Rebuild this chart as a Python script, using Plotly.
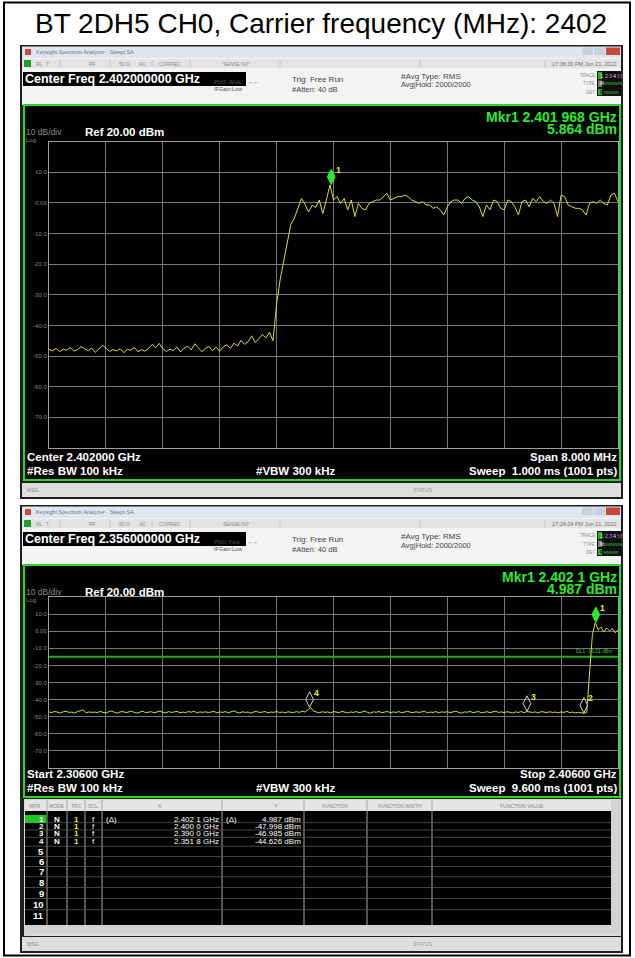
import numpy as np
import plotly.graph_objects as go

W, H = 635, 958
FONT = "Liberation Sans, Arial, sans-serif"

title_text = "BT 2DH5 CH0, Carrier frequency (MHz): 2402"

# sweep 1: centre 2402 MHz, span 8 MHz  (MHz, dBm)
top_start, top_stop = 2398.0, 2406.0
top_level = [
    -47.9, -48.3, -47.5, -48.6, -47.8, -48.1, -47.2, -48.4, -47.9, -46.9, -47.6,
    -48.2, -47.4, -48.8, -47.7, -46.5, -47.3, -48.5, -47.9, -48.3, -47.6,
    -48.9, -47.8, -48.1, -47.2, -48.6, -47.9, -48.4, -47.5, -46.2, -47.3,
    -45.9, -47.6, -48.5, -47.8, -48.2, -47.1, -48.7, -47.4, -46.8, -48.0,
    -46.0, -47.3, -48.6, -47.5, -46.9, -48.2, -47.1, -48.4, -47.0, -46.3,
    -47.5, -45.8, -46.7, -44.9, -46.2, -45.3, -43.4, -45.6, -44.2, -43.0,
    -44.1, -42.2, -45.0, -33.0, -25.0, -19.0, -12.0, -7.0, -5.0, -1.5,
    1.4, -0.5, -3.0, -0.8, -1.5, 0.9, -3.5, 0.9, 5.86, 0.9,
    2.0, -0.2, 1.4, -2.3, 0.9, -4.5, -0.2, -1.8, -2.3, -0.2,
    0.4, 0.9, 0.9, 2.0, 3.1, 0.9, 1.4, 2.0, 2.0, 2.5,
    2.0, 0.9, 0.4, -0.2, 0.4, -0.7, -0.7, -1.8, -1.3, -2.3,
    -4.0, -1.3, 0.4, 0.9, 0.9, -0.2, 1.4, 2.0, 0.9, 0.4,
    -1.3, -4.5, -0.7, -2.3, 0.9, 0.4, -1.8, -2.3, 0.9, 0.4,
    -1.3, -4.0, 0.4, 0.9, -1.3, 1.4, 0.4, 2.0, 0.4, -0.2,
    0.9, -0.2, -4.5, 2.5, 2.0, -0.7, -1.3, -1.8, -1.8, -2.3,
    -4.0, -0.2, 0.4, -0.2, 0.9, -0.2, -0.7, 2.5, 3.1, 0.4,
]
top_mkr_freq = [2401.968]
top_mkr_level = [5.864]

# sweep 2: 2306 - 2406 MHz
bot_start, bot_stop = 2306.0, 2406.0
bot_level = [
    -47.2, -47.6, -46.9, -47.4, -47.8, -47.1, -46.8, -47.5, -47.3, -47.9,
    -47.0, -46.6, -45.9, -47.7, -47.2, -47.5, -47.3, -47.6, -46.9, -47.5,
    -47.8, -47.1, -46.7, -47.4, -47.9, -47.2, -47.0, -47.6, -47.3, -46.8,
    -47.5, -47.9, -47.2, -46.9, -47.6, -47.4, -47.1, -47.8, -47.3, -46.7,
    -47.4, -47.8, -47.0, -47.5, -47.2, -46.9, -47.7, -47.3, -47.6, -47.0,
    -47.4, -46.8, -47.9, -47.2, -47.5, -47.1, -47.6, -47.3, -46.9, -47.8,
    -47.2, -47.5, -47.0, -47.7, -47.3, -46.6, -47.4, -47.8, -47.1, -47.5,
    -47.3, -47.9, -47.2, -46.9, -47.6, -47.4, -47.0, -47.7, -47.3, -47.5,
    -46.9, -47.6, -47.2, -47.8, -47.1, -47.4, -47.6, -47.0, -47.5, -46.8,
    -47.3, -45.9, -44.6, -46.8, -47.4, -47.7, -47.1, -47.5, -47.2, -47.8,
    -47.0, -47.4, -47.6, -46.9, -47.3, -47.8, -47.2, -47.5, -47.0, -47.6,
    -47.3, -46.7, -47.5, -47.9, -47.2, -47.4, -47.0, -47.6, -47.3, -46.9,
    -47.7, -47.2, -47.5, -47.0, -47.8, -47.3, -46.8, -47.4, -47.6, -47.1,
    -47.5, -47.2, -46.9, -47.7, -47.3, -47.5, -47.0, -47.8, -47.2, -47.4,
    -47.1, -47.6, -47.3, -46.8, -47.5, -47.9, -47.2, -47.4, -46.9, -47.6,
    -47.3, -47.0, -47.7, -47.4, -47.1, -47.6, -47.3, -46.8, -47.5, -47.2,
    -47.6, -47.1, -47.4, -47.8, -47.2, -47.5, -47.0, -47.6, -47.0, -47.3,
    -47.5, -47.2, -47.8, -47.0, -47.4, -47.6, -47.1, -47.5, -47.3, -47.7,
    -47.2, -47.5, -46.9, -47.6, -47.3, -47.8, -47.4, -47.6, -48.0, -47.5,
    -24.0, -2.0, 4.99, 0.8, 2.3, -0.5, 1.9, 0.2, 1.6, -0.9,
    0.6,
]
display_line = -15.01

# marker table of sweep 2
mkr_mode = ["N", "N", "N", "N"]
mkr_trc = ["1", "1", "1", "1"]
mkr_scl = ["f", "f", "f", "f"]
mkr_delta = ["(\u0394)", "", "", ""]
mkr_freq = [2402.1, 2400.0, 2390.0, 2351.8]
mkr_level = [4.987, -47.998, -46.985, -44.626]
mkr_rows = 11

ref_level = 20.0
db_div = 10.0
y_ticks = [10, 0, -10, -20, -30, -40, -50, -60, -70]
y_tick_text = ["10.0", "0.00", "-10.0", "-20.0", "-30.0", "-40.0", "-50.0", "-60.0", "-70.0"]

windows = [
    dict(T=45, B=499, G=105, GB=480,
         cf="Center Freq 2.402000000 GHz", time="17:38:30 PM Jun 21, 2022", pno="PNO: Wide",
         mkr="Mkr1 2.401 968 GHz", mkr_val="5.864 dBm",
         left="Center 2.402000 GHz", right="Span 8.000 MHz", sweep="Sweep  1.000 ms (1001 pts)"),
    dict(T=505, B=953, G=565, GB=797,
         cf="Center Freq 2.356000000 GHz", time="17:24:24 PM Jun 21, 2022", pno="PNO: Fast",
         mkr="Mkr1 2.402 1 GHz", mkr_val="4.987 dBm",
         left="Start 2.30600 GHz", right="Stop 2.40600 GHz", sweep="Sweep  9.600 ms (1001 pts)"),
]

shapes, annos = [], []


def py(y):
    return 1 - y / H


def box(x0, y0, x1, y1, fill="rgba(0,0,0,0)", line=None, lw=0):
    shapes.append(dict(type="rect", xref="paper", yref="paper", x0=x0 / W, x1=x1 / W,
                       y0=py(y1), y1=py(y0), fillcolor=fill, layer="below",
                       line=dict(color=line or "rgba(0,0,0,0)", width=lw)))


def seg(x0, y0, x1, y1, color, lw=1):
    shapes.append(dict(type="line", xref="paper", yref="paper", x0=x0 / W, x1=x1 / W,
                       y0=py(y0), y1=py(y1), layer="below", line=dict(color=color, width=lw)))


def txt(x, y, s, size=6, color="#8a8a8a", anchor="left", bold=False):
    annos.append(dict(xref="paper", yref="paper", x=x / W, y=py(y),
                      text="<b>%s</b>" % s if bold else s, showarrow=False,
                      xanchor=anchor, yanchor="middle", borderpad=0,
                      font=dict(size=size, color=color, family=FONT)))


# outer frame + title
box(4, 2.5, 630, 955.5, line="black", lw=2)
txt(321, 23, title_text, 28, "black", anchor="center")

for w in windows:
    T, B, G, GB = w["T"], w["B"], w["G"], w["GB"]
    box(20, T, 623, B, fill="#1e1e1e")
    box(22, T + 1.5, 621, T + 13, fill="#dfe6ef")
    box(25, T + 4, 31, T + 10, fill="#cf4a3c")
    txt(35, T + 7, "Keysight Spectrum Analyzer - Swept SA", 5.5, "#6d7682")
    box(582, T + 2.5, 593, T + 10, fill="#c9d1db")
    box(594, T + 2.5, 605, T + 10, fill="#c9d1db")
    box(606, T + 2.5, 620, T + 10, fill="#c8463a")
    box(22, T + 13, 621, G, fill="#f3f3f3")
    box(22, T + 14, 621, T + 23, fill="#e3e3e3")
    box(24, T + 15, 31, T + 22, fill="#1f9e2a")
    for x, s in [(35, "RL"), (45, "T"), (88, "RF"), (118, "50 \u03a9"), (138, "AC"), (158, "CORREC"),
                 (222, "SENSE:INT")]:
        txt(x, T + 18.5, s, 5, "#8c8c8c")
    for x in [60, 110, 152, 190, 280, 420, 545]:
        seg(x, T + 15, x, T + 22, "#c4c4c4")
    txt(618, T + 19, w["time"], 5.5, "#707070", anchor="right")

    box(23, T + 27, 246, T + 41, fill="black")
    txt(24, T + 34, w["cf"], 12.5, "white", bold=True)
    txt(213, T + 37, w["pno"], 5.5, "#555555")
    txt(213, T + 44, "IFGain:Low", 5.5, "#555555")
    txt(246, T + 37, "\u2192\u2190", 6, "#555555")
    txt(291, T + 34, "Trig: Free Run", 8, "#444444")
    txt(291, T + 44, "#Atten: 40 dB", 7.5, "#444444")
    txt(400, T + 31, "#Avg Type: RMS", 8, "#444444")
    txt(400, T + 40, "Avg|Hold: 2000/2000", 7.5, "#444444")
    # trace indicator block
    txt(596, T + 30, "TRACE", 4.5, "#8c8c8c", anchor="right")
    txt(596, T + 39, "TYPE", 4.5, "#8c8c8c", anchor="right")
    txt(596, T + 47, "DET", 4.5, "#8c8c8c", anchor="right")
    box(597, T + 26, 621, T + 51, fill="#101010")
    box(598, T + 27, 602, T + 34, fill="#25b325")
    for x, s, c in [(599, "1", "#ffff40"), (603.5, "2", "#30e0e0"), (607.5, "3", "#ff50ff"),
                    (611.5, "4", "#e0e0e0"), (615.5, "5", "#5070ff"), (619, "6", "#ff5050")]:
        txt(x, T + 30.5, s, 5.5, c)
    box(598, T + 35.5, 602, T + 42, fill="#7a7a7a")
    txt(598.5, T + 39, "M", 4.5, "white")
    txt(603, T + 39, "WWWWW", 4, "#2ecc2e")
    box(598, T + 44, 602, T + 50, fill="#25b325")
    txt(598.5, T + 47, "P", 4.5, "black")
    txt(603, T + 47, "NNNNN", 4, "#2ecc2e")

    # instrument display
    box(24, G, 620, GB, fill="black", line="#28d828", lw=2)
    txt(618, G + 12, w["mkr"], 14, "#2ee82e", anchor="right", bold=True)
    txt(618, G + 24, w["mkr_val"], 14, "#2ee82e", anchor="right", bold=True)
    txt(25, G + 27, "10 dB/div", 8.5, "#8a8a8a")
    txt(84, G + 27, "Ref 20.00 dBm", 11.5, "white", bold=True)
    txt(25, G + 35, "Log", 6, "#8a8a8a")
    txt(26, GB - 23, w["left"], 11.5, "white", bold=True)
    txt(26, GB - 9, "#Res BW 100 kHz", 11.5, "white", bold=True)
    txt(296, GB - 9, "#VBW 300 kHz", 11.5, "white", anchor="center", bold=True)
    txt(618, GB - 23, w["right"], 11.5, "white", anchor="right", bold=True)
    txt(618, GB - 9, w["sweep"], 11.5, "white", anchor="right", bold=True)

    # status bar
    box(22, B - 16, 621, B - 2, fill="#dedede")
    txt(26, B - 9, "MSG", 5, "#8a8a8a")
    txt(412, B - 9, "STATUS", 5, "#9a9a9a")

# marker table below sweep 2
tb_l, tb_r, tb_top, tb_hdr, tb_bot = 25, 611, 800, 811, 925
box(24, tb_top - 1, 621, 936, fill="#d9d9d9")
box(tb_l, tb_top, tb_r, tb_hdr, fill="#e4e4e4")
box(tb_l, tb_hdr, tb_r, tb_bot, fill="black")
box(tb_r, tb_top, 620, tb_bot, fill="#d2d2d2")
box(tb_l, tb_bot, 620, 933, fill="#d2d2d2")
col_x = [47, 67, 85, 102, 222, 304, 367, 432]
for x in col_x:
    seg(x, tb_top, x, tb_bot, "#a8a8a8")
for x, s, a in [(28, "MKR", "left"), (48, "MODE", "left"), (70, "TRC", "left"), (87, "SCL", "left"),
                (160, "X", "center"), (276, "Y", "center"), (335, "FUNCTION", "center"),
                (400, "FUNCTION WIDTH", "center"), (522, "FUNCTION VALUE", "center")]:
    txt(x, 805.5, s, 5, "#8a8a8a", anchor=a)

row_y = [819, 826.3, 833.6, 841, 851.5, 861.5, 871.5, 882, 893, 904, 915.5]
for a, b in zip(row_y[:-1], row_y[1:]):
    seg(tb_l, (a + b) / 2, tb_r, (a + b) / 2, "#555555", 0.8)
box(tb_l, 815, 46, 823, fill="#22c622")
for i in range(mkr_rows):
    txt(45, row_y[i], str(i + 1), 8 if i < 4 else 9.5, "white", anchor="right", bold=True)
for i in range(len(mkr_freq)):
    y = row_y[i]
    s = "%.4f" % (mkr_freq[i] / 1000)
    txt(57, y, mkr_mode[i], 8, "white", anchor="center", bold=True)
    txt(76, y, mkr_trc[i], 8, "#f0f020", anchor="center", bold=True)
    txt(93, y, mkr_scl[i], 8, "white", anchor="center")
    txt(105, y, mkr_delta[i], 8, "white")
    txt(220, y, s[:5] + " " + s[5:] + " GHz", 8, "white", anchor="right")
    txt(225, y, mkr_delta[i], 8, "white")
    txt(302, y, "%.3f dBm" % mkr_level[i], 8, "white", anchor="right")

# traces
top_freq = np.linspace(top_start, top_stop, len(top_level))
bot_freq = np.linspace(bot_start, bot_stop, len(bot_level))
trace_color = "#dede2a"
mkr_green = "#2ee82e"

fig = go.Figure()
fig.add_trace(go.Scatter(x=top_freq, y=top_level, mode="lines", xaxis="x", yaxis="y",
                         line=dict(color=trace_color, width=1), hoverinfo="skip"))
fig.add_trace(go.Scatter(x=[bot_start, bot_stop], y=[display_line, display_line], mode="lines",
                         xaxis="x2", yaxis="y2", line=dict(color="#1fae1f", width=2), hoverinfo="skip"))
fig.add_trace(go.Scatter(x=bot_freq, y=bot_level, mode="lines", xaxis="x2", yaxis="y2",
                         line=dict(color=trace_color, width=1), hoverinfo="skip"))


def add_markers(xa, ya, freqs, levels):
    # marker diamonds sit just above the trace point they mark
    n = len(freqs)
    sym = ["diamond-tall"] + ["diamond-tall-open"] * (n - 1)
    col = [mkr_green] + ["#d4d4d4"] * (n - 1)
    fig.add_trace(go.Scatter(x=freqs, y=levels, mode="markers", xaxis=xa, yaxis=ya, hoverinfo="skip",
                             marker=dict(symbol=sym, size=11, color=col, angle=180, standoff=8,
                                         line=dict(color=col, width=1))))
    for i in range(n):
        annos.append(dict(xref=xa, yref=ya, x=freqs[i], y=levels[i], text="<b>%d</b>" % (i + 1),
                          showarrow=False, xshift=7, yshift=15,
                          font=dict(size=8.5, color="#f0f020", family=FONT)))


add_markers("x", "y", top_mkr_freq, top_mkr_level)
add_markers("x2", "y2", mkr_freq, mkr_level)

annos.append(dict(xref="x2", yref="y2", x=bot_stop, y=display_line, text="DL1 -15.01 dBm",
                  showarrow=False, xanchor="right", yanchor="bottom", xshift=-4, yshift=1,
                  font=dict(size=5, color="#2ec82e", family=FONT)))

axis_common = dict(showgrid=True, gridcolor="#777777", gridwidth=1, zeroline=False, showline=True,
                   linecolor="#a0a0a0", linewidth=1, mirror=True, ticks="", fixedrange=True)
y_range = [ref_level - 10 * db_div, ref_level]
y_common = dict(axis_common, range=y_range, tickmode="array", tickvals=y_ticks, ticktext=y_tick_text,
                tickfont=dict(size=6, color="#8a8a8a", family=FONT))

fig.update_layout(
    width=W, height=H, autosize=False, margin=dict(l=0, r=0, t=0, b=0),
    paper_bgcolor="white", plot_bgcolor="black", showlegend=False,
    xaxis=dict(axis_common, domain=[49 / W, 618 / W], range=[top_start, top_stop],
               tick0=top_start, dtick=(top_stop - top_start) / 10, showticklabels=False, anchor="y"),
    yaxis=dict(y_common, domain=[py(448), py(141.5)], anchor="x"),
    xaxis2=dict(axis_common, domain=[49 / W, 618 / W], range=[bot_start, bot_stop],
                tick0=bot_start, dtick=(bot_stop - bot_start) / 10, showticklabels=False, anchor="y2"),
    yaxis2=dict(y_common, domain=[py(768), py(597)], anchor="x2"),
    shapes=shapes, annotations=annos,
)

# the page body has a default 8px margin; drop it so the figure sits at the window origin
fig.write_html("out.html", config={"displayModeBar": False},
               post_script="document.body.style.margin = '0';")
